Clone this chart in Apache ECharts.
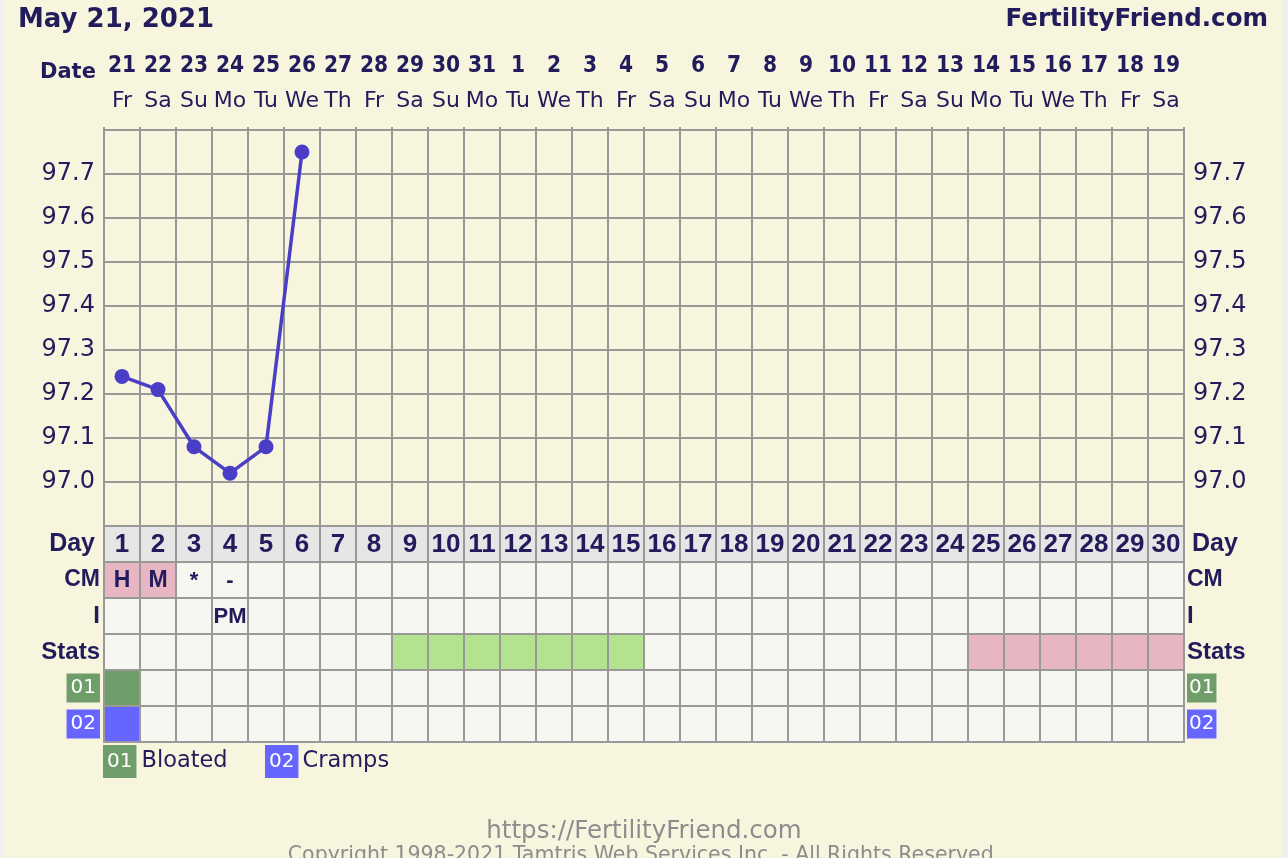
<!DOCTYPE html>
<html>
<head>
<meta charset="utf-8">
<script src="https://cdn.jsdelivr.net/npm/echarts@6/dist/echarts.min.js"></script>
<style>
html,body{margin:0;padding:0;}
body{width:1288px;height:858px;overflow:hidden;background:linear-gradient(to right,#efefef 0,#efefef 4px,#f8f5df 4px,#f8f5df 1283px,#efefef 1283px);}
#c{width:1288px;height:858px;}
</style>
</head>
<body>
<div id="c"></div>
<script>
// ---------- data ----------
const chartDate = 'May 21, 2021';
const dates = ['21','22','23','24','25','26','27','28','29','30','31','1','2','3','4','5','6','7','8','9','10','11','12','13','14','15','16','17','18','19'];
const weekdays = ['Fr','Sa','Su','Mo','Tu','We','Th','Fr','Sa','Su','Mo','Tu','We','Th','Fr','Sa','Su','Mo','Tu','We','Th','Fr','Sa','Su','Mo','Tu','We','Th','Fr','Sa'];
const cycleDays = ['1','2','3','4','5','6','7','8','9','10','11','12','13','14','15','16','17','18','19','20','21','22','23','24','25','26','27','28','29','30'];
const temperatures = [97.24, 97.21, 97.08, 97.02, 97.08, 97.75, null, null, null, null, null, null, null, null, null, null, null, null, null, null, null, null, null, null, null, null, null, null, null, null];
const tempTicks = ['97.0','97.1','97.2','97.3','97.4','97.5','97.6','97.7'];
const cervicalMucus = ['H','M','*','-','','','','','','','','','','','','','','','','','','','','','','','','','',''];
const intercourse = ['','','','PM','','','','','','','','','','','','','','','','','','','','','','','','','',''];
// stats: F = fertile window, P = expected period
const stats = ['','','','','','','','','F','F','F','F','F','F','F','','','','','','','','','','P','P','P','P','P','P'];
const bloatedDays = ['1'];
const crampsDays = ['1'];
const rowNames = ['Day','CM','I','Stats','01','02'];
const symptomNames = ['Bloated','Cramps'];

// ---------- styles ----------
const NAVY = '#221b5c';
const GRID = '#999999';
const COLORS = {cellBg:'#f7f7f1', dayBg:'#e6e6e6', pink:'#e8b5c3', green:'#b3e290', s01:'#6f9e6a', s02:'#6666ff', line:'#4a3ec6'};
const BOLD_SANS = '"Liberation Sans", Arial, sans-serif';
const COND = '"DejaVu Sans Condensed", "DejaVu Sans", sans-serif';
const DEJAVU = '"DejaVu Sans", Verdana, sans-serif';

// ---------- table cells ----------
const cells = [];
const cellData = [];
rowNames.forEach((row, r) => {
  cycleDays.forEach((d, c) => {
    let kind = '', text = '';
    if (row === 'Day') { kind = 'day'; text = d; }
    else if (row === 'CM') { text = cervicalMucus[c]; kind = (text === 'H' || text === 'M') ? 'cmPink' : ''; }
    else if (row === 'I') { text = intercourse[c]; }
    else if (row === 'Stats') { kind = stats[c] === 'F' ? 'fertile' : (stats[c] === 'P' ? 'period' : ''); }
    else if (row === '01') { kind = bloatedDays.includes(d) ? 's01' : ''; }
    else if (row === '02') { kind = crampsDays.includes(d) ? 's02' : ''; }
    cells.push({kind, text, row});
    cellData.push([c, r]);
  });
});
function fillFor(kind){
  return {day:COLORS.dayBg, cmPink:COLORS.pink, fertile:COLORS.green, period:COLORS.pink, s01:COLORS.s01, s02:COLORS.s02}[kind] || COLORS.cellBg;
}
function fontFor(cell){
  if (cell.kind === 'day') return 'bold 26px ' + BOLD_SANS;
  if (cell.row === 'I') return 'bold 22px ' + BOLD_SANS;
  if (cell.text === '*' || cell.text === '-') return 'bold 22px ' + BOLD_SANS;
  return 'bold 23px ' + BOLD_SANS;
}

const chart = echarts.init(document.getElementById('c'), null, {renderer:'canvas'});

const rowRich = {
  day:{fontFamily:BOLD_SANS, fontWeight:'bold', fontSize:25, color:NAVY, padding:[0,5,0,0]},
  lab:{fontFamily:BOLD_SANS, fontWeight:'bold', fontSize:24, color:NAVY},
  cm:{fontFamily:BOLD_SANS, fontWeight:'bold', fontSize:23, color:NAVY},
  g:{fontFamily:DEJAVU, fontSize:20, color:'#fff', backgroundColor:COLORS.s01, height:29, lineHeight:29, padding:[0,4]},
  b:{fontFamily:DEJAVU, fontSize:20, color:'#fff', backgroundColor:COLORS.s02, height:29, lineHeight:29, padding:[0,4]}
};
const rowRichR = Object.assign({}, rowRich, {
  day:{fontFamily:BOLD_SANS, fontWeight:'bold', fontSize:25, color:NAVY, padding:[0,0,0,5]},
  g:{fontFamily:DEJAVU, fontSize:20, color:'#fff', backgroundColor:COLORS.s01, height:29, lineHeight:29, padding:[0,2]},
  b:{fontFamily:DEJAVU, fontSize:20, color:'#fff', backgroundColor:COLORS.s02, height:29, lineHeight:29, padding:[0,2]}
});
function rowFmt(v){
  if (v === 'Day') return '{day|Day}';
  if (v === '01') return '{g|01}';
  if (v === '02') return '{b|02}';
  if (v === 'CM') return '{cm|CM}';
  return '{lab|' + v + '}';
}
function tempFmt(v){
  const s = v.toFixed(1);
  return tempTicks.includes(s) ? s : '';
}

const option = {
  backgroundColor:'transparent',
  animation:false,
  title:[
    {text:chartDate, left:18, top:7, padding:0, textStyle:{fontFamily:DEJAVU, fontWeight:'bold', fontSize:26, color:NAVY}},
    {text:'FertilityFriend.com', right:20, top:7, padding:0, textStyle:{fontFamily:DEJAVU, fontWeight:'bold', fontSize:24.5, color:NAVY}},
    {text:'Date', left:40, top:62, padding:0, textStyle:{fontFamily:DEJAVU, fontWeight:'bold', fontSize:21, color:NAVY}},
    {text:'{g|01}{t|' + symptomNames[0] + '}', left:103, top:745, padding:0, textStyle:{rich:{
      g:{fontFamily:DEJAVU, fontWeight:'normal', fontSize:20, color:'#fff', backgroundColor:COLORS.s01, height:33, lineHeight:33, padding:[0,4]},
      t:{fontFamily:DEJAVU, fontWeight:'normal', fontSize:22.5, color:NAVY, padding:[0,0,0,5]}}}},
    {text:'{b|02}{t|' + symptomNames[1] + '}', left:265, top:745, padding:0, textStyle:{rich:{
      b:{fontFamily:DEJAVU, fontWeight:'normal', fontSize:20, color:'#fff', backgroundColor:COLORS.s02, height:33, lineHeight:33, padding:[0,4]},
      t:{fontFamily:DEJAVU, fontWeight:'normal', fontSize:22.5, color:NAVY, padding:[0,0,0,4]}}}},
    {text:'https://FertilityFriend.com', left:'center', top:819, padding:0, textStyle:{fontFamily:DEJAVU, fontWeight:'normal', fontSize:24.5, color:'#8c8c8c'}},
    {text:'Copyright 1998-2021 Tamtris Web Services Inc. - All Rights Reserved.', left:'center', top:845, padding:0, textStyle:{fontFamily:DEJAVU, fontWeight:'normal', fontSize:20.5, color:'#8c8c8c'}}
  ],
  grid:[
    {left:104, top:130, width:1080, height:396, show:true, borderColor:GRID, borderWidth:2, backgroundColor:'transparent', containLabel:false},
    {left:104, top:526, width:1080, height:216, show:false, containLabel:false}
  ],
  xAxis:[
    {type:'category', gridIndex:0, position:'top', data:dates, boundaryGap:true,
      axisLine:{show:false}, axisTick:{show:true, interval:0, length:3, lineStyle:{color:GRID, width:2}},
      splitLine:{show:true, interval:0, lineStyle:{color:GRID, width:2}},
      axisLabel:{interval:0, margin:64, verticalAlign:'middle', fontFamily:COND, fontWeight:'bold', fontSize:22.5, color:NAVY}},
    {type:'category', gridIndex:0, position:'top', data:weekdays, boundaryGap:true,
      axisLine:{show:false}, axisTick:{show:false}, splitLine:{show:false},
      axisLabel:{interval:0, margin:29, verticalAlign:'middle', fontFamily:DEJAVU, fontSize:22, color:NAVY}},
    {type:'category', gridIndex:1, data:cycleDays, boundaryGap:true, show:false}
  ],
  yAxis:[
    {type:'value', gridIndex:0, position:'left', min:96.9, max:97.8, interval:0.1,
      axisLine:{show:false}, axisTick:{show:false},
      splitLine:{show:true, lineStyle:{color:GRID, width:2}},
      axisLabel:{margin:9, formatter:tempFmt, fontFamily:DEJAVU, fontSize:24, color:NAVY}},
    {type:'value', gridIndex:0, position:'right', min:96.9, max:97.8, interval:0.1,
      axisLine:{show:false}, axisTick:{show:false}, splitLine:{show:false},
      axisLabel:{margin:9, formatter:tempFmt, fontFamily:DEJAVU, fontSize:24, color:NAVY}},
    {type:'category', gridIndex:1, position:'left', data:rowNames, inverse:true, boundaryGap:true,
      axisLine:{show:false}, axisTick:{show:false}, splitLine:{show:false},
      axisLabel:{margin:4, formatter:rowFmt, rich:rowRich}},
    {type:'category', gridIndex:1, position:'right', data:rowNames, inverse:true, boundaryGap:true,
      axisLine:{show:false}, axisTick:{show:false}, splitLine:{show:false},
      axisLabel:{margin:3, formatter:rowFmt, rich:rowRichR}}
  ],
  series:[
    {type:'line', name:'BBT', xAxisIndex:0, yAxisIndex:0, data:temperatures, connectNulls:false,
      symbol:'circle', symbolSize:15, showSymbol:true,
      lineStyle:{color:COLORS.line, width:3.5}, itemStyle:{color:COLORS.line}, z:5},
    {type:'custom', name:'table', xAxisIndex:2, yAxisIndex:2, data:cellData,
      encode:{x:0, y:1},
      renderItem:function(params, api){
        const cell = cells[params.dataIndex];
        const p = api.coord([api.value(0), api.value(1)]);
        const s = api.size([1,1]);
        const children = [{type:'rect', shape:{x:p[0]-s[0]/2, y:p[1]-s[1]/2, width:s[0], height:s[1]},
          style:{fill:fillFor(cell.kind), stroke:GRID, lineWidth:2}}];
        if (cell.text) {
          children.push({type:'text', x:p[0], y:p[1]+1, style:{text:cell.text, font:fontFor(cell), fill:NAVY, align:'center', verticalAlign:'middle'}});
        }
        return {type:'group', children:children};
      }}
  ]
};
chart.setOption(option);
</script>
</body>
</html>
